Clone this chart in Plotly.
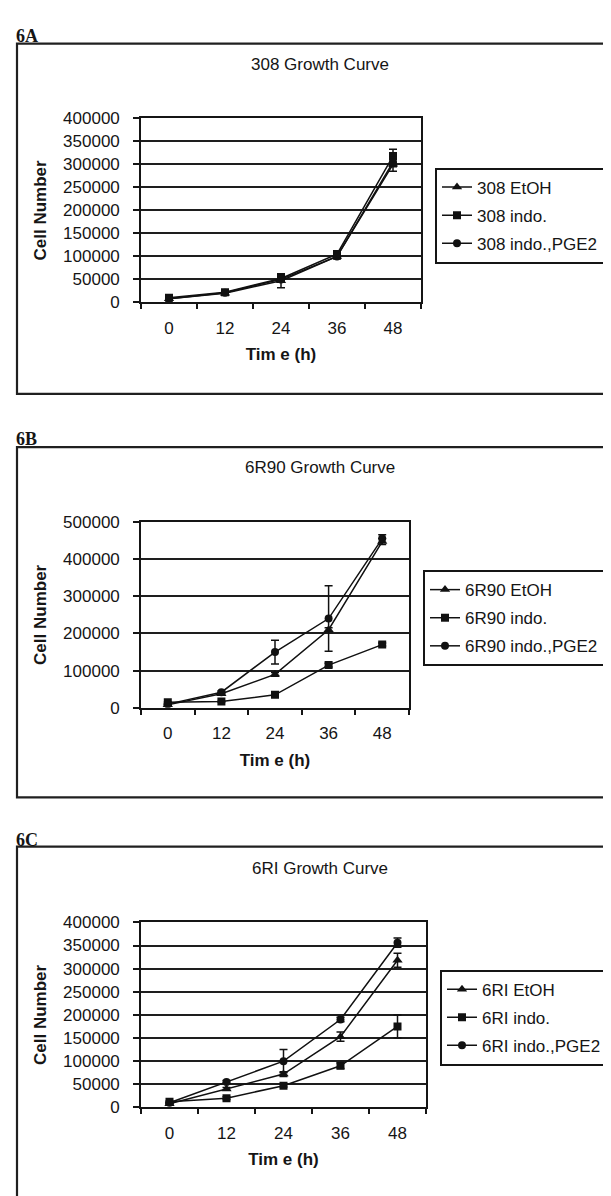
import plotly.graph_objects as go

W, H = 611, 1196

# ---------------- data ----------------
time_labels = ["0", "12", "24", "36", "48"]

a_etoh = [8000, 20000, 47000, 100000, 300000]
a_indo = [10000, 22000, 52000, 105000, 318000]
a_pge2 = [8000, 21000, 50000, 100000, 305000]
a_etoh_err = [1000, 2000, 15000, 5000, 15000]
a_indo_err = [1500, 3000, 8000, 6000, 15000]
a_pge2_err = [1000, 2000, 5000, 5000, 10000]

b_etoh = [8000, 38000, 90000, 210000, 447000]
b_indo = [15000, 17000, 35000, 115000, 170000]
b_pge2 = [10000, 42000, 150000, 240000, 455000]
b_etoh_err = [1000, 3000, 5000, 5000, 8000]
b_indo_err = [1000, 1000, 2000, 5000, 4000]
b_pge2_err = [1000, 3000, 32000, 88000, 10000]

c_etoh = [8000, 40000, 72000, 153000, 318000]
c_indo = [12000, 20000, 47000, 90000, 175000]
c_pge2 = [10000, 55000, 100000, 190000, 356000]
c_etoh_err = [1000, 3000, 5000, 10000, 15000]
c_indo_err = [2000, 3000, 3000, 6000, 25000]
c_pge2_err = [1000, 3000, 25000, 5000, 10000]

panels = [
    dict(tag="6A", title="308 Growth Curve", prefix="308",
         series=[(a_etoh, a_etoh_err), (a_indo, a_indo_err), (a_pge2, a_pge2_err)],
         ymax=400000, dtick=50000),
    dict(tag="6B", title="6R90 Growth Curve", prefix="6R90",
         series=[(b_etoh, b_etoh_err), (b_indo, b_indo_err), (b_pge2, b_pge2_err)],
         ymax=500000, dtick=100000),
    dict(tag="6C", title="6RI Growth Curve", prefix="6RI",
         series=[(c_etoh, c_etoh_err), (c_indo, c_indo_err), (c_pge2, c_pge2_err)],
         ymax=400000, dtick=50000),
]
series_names = ["EtOH", "indo.", "indo.,PGE2"]
symbols = ["triangle-up", "square", "circle"]

# ---------------- layout geometry (pixels) ----------------
plot_box = [(133, 413, 103, 290), (133, 401, 513, 702), (133, 418, 920, 1108)]
frames = [(9, 650, 27, 383), (9, 650, 437, 793), (9, 650, 843, 1240)]
title_y = [48, 458, 865]
tag_y = [19, 429, 836]
legend_pos = [(427, 153), (415, 562), (432, 968)]


def px(x):
    return x / W


def py(y):
    return 1 - y / H


FONT = "Liberation Sans, Arial, sans-serif"
INK = "#151515"

fig = go.Figure()
layout = dict(
    width=W, height=H, margin=dict(l=0, r=0, t=0, b=0),
    paper_bgcolor="white", plot_bgcolor="white",
    font=dict(family=FONT, size=17, color=INK),
    shapes=[], annotations=[],
)

for i, p in enumerate(panels):
    n = "" if i == 0 else str(i + 1)
    xa, ya = "x" + n, "y" + n
    leg = "legend" + n
    for j, (vals, err) in enumerate(p["series"]):
        fig.add_trace(go.Scatter(
            x=time_labels, y=vals, xaxis=xa, yaxis=ya,
            mode="lines+markers",
            name=f"{p['prefix']} {series_names[j]}",
            legend=leg, legendgroup=f"{leg}_{j}",
            line=dict(color="#111", width=1.5),
            marker=dict(symbol=symbols[j], size=9 if j == 0 else 8, color="#111"),
            error_y=dict(type="data", array=err, visible=True, color="#111",
                         thickness=1.5, width=4),
        ))
    x0, x1, y0, y1 = plot_box[i]
    layout["xaxis" + n] = dict(
        domain=[px(x0), px(x1)], anchor=ya, type="category",
        range=[-0.5, 4.5], tickson="boundaries", ticks="outside", ticklen=5,
        tickwidth=1.5, tickcolor=INK, showline=True, linecolor=INK, linewidth=1.6,
        mirror=True, showgrid=False, zeroline=False,
        tickfont=dict(size=17), ticklabelstandoff=9,
        title=dict(text="<b>Tim e (h)</b>", font=dict(size=17), standoff=12),
    )
    layout["yaxis" + n] = dict(
        domain=[py(y1), py(y0)], anchor=xa, range=[0, p["ymax"]],
        dtick=p["dtick"], tickformat="d", ticks="outside", ticklen=6,
        tickwidth=1.5, tickcolor=INK, showline=True, linecolor=INK, linewidth=1.6,
        mirror=True, showgrid=True, gridcolor="#1e1e1e", gridwidth=1.8,
        zeroline=False, tickfont=dict(size=17), ticklabelstandoff=10,
        title=dict(text="<b>Cell Number</b>", font=dict(size=17), standoff=12),
    )
    lx, ly = legend_pos[i]
    layout[leg] = dict(
        x=px(lx), y=py(ly), xanchor="left", yanchor="top",
        bordercolor=INK, borderwidth=2, bgcolor="white",
        font=dict(size=17, color=INK), tracegroupgap=3, itemwidth=30,
    )
    fx0, fx1, fy0, fy1 = frames[i]
    layout["shapes"].append(dict(
        type="rect", xref="paper", yref="paper",
        x0=px(fx0), x1=px(fx1), y0=py(fy1), y1=py(fy0),
        line=dict(color="#202020", width=2.2), fillcolor="rgba(0,0,0,0)", layer="below",
    ))
    layout["annotations"].append(dict(
        text=p["title"], xref="paper", yref="paper", x=px(312), y=py(title_y[i]),
        xanchor="center", yanchor="middle", showarrow=False,
        font=dict(size=17, color=INK),
    ))
    layout["annotations"].append(dict(
        text=f"<b>{p['tag']}</b>", xref="paper", yref="paper", x=px(6), y=py(tag_y[i]),
        xanchor="left", yanchor="middle", showarrow=False,
        font=dict(family="Liberation Serif, Times New Roman, serif", size=18, color=INK),
    ))

fig.update_layout(**layout)
fig.write_html("out.html")
